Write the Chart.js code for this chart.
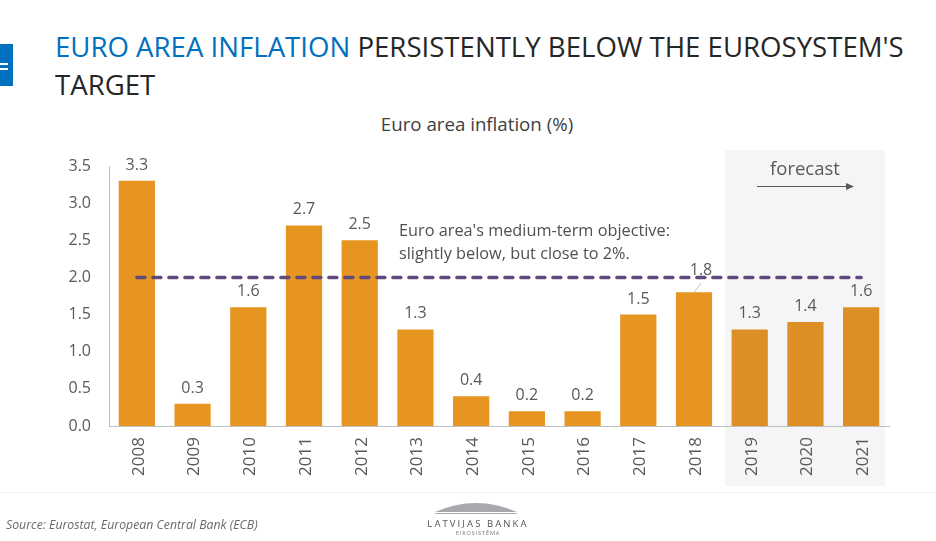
<!DOCTYPE html>
<html>
<head>
<meta charset="utf-8">
<script src="https://cdn.jsdelivr.net/npm/chart.js@4"></script>
<style>
    html, body { margin: 0; padding: 0; background: #fff; }
    body { width: 936px; height: 541px; position: relative; overflow: hidden; font-family: "Open Sans", sans-serif; color: #595959; }
    div, svg, canvas { position: absolute; }
    #tab { left: 0; top: 44px; width: 13px; height: 42px; background: #0070c0; }
    #tab div { left: 0; width: 8px; height: 2px; background: #fff; }
    #title { left: 55px; top: 27px; width: 875px; font-size: 27.6px; line-height: 38px; color: #262626; }
    #title span { color: #0070c0; }
    #chartTitle { left: 277px; width: 400px; top: 111px; text-align: center; font-size: 18.7px; color: #404040; }
    #band { left: 725px; top: 150px; width: 160px; height: 336px; background: #f5f5f8; }
    #forecast { left: 725px; width: 160px; top: 155px; text-align: center; font-size: 18.5px; }
    #note { left: 399px; top: 219px; font-size: 16.3px; line-height: 23px; white-space: nowrap; color: #505050; }
    #footLine { left: 0; top: 492px; width: 936px; height: 1px; background: #f0f0f0; }
    #source { left: 6px; top: 516px; font-size: 12.3px; font-style: italic; color: #6a6a6a; }
    #bank { left: 398px; width: 160px; top: 517px; text-align: center; font-family: "Open Sans", sans-serif; font-size: 9.5px; letter-spacing: 2.1px; color: #555; }
    #bank2 { left: 398px; width: 160px; top: 529px; text-align: center; font-family: "Open Sans", sans-serif; font-size: 5.5px; letter-spacing: 0.9px; color: #777; }
</style>
</head>
<body>
<div id="tab"><div style="top:19px"></div><div style="top:24px"></div></div>
<div id="title"><span>EURO AREA INFLATION</span> PERSISTENTLY BELOW THE EUROSYSTEM'S TARGET</div>
<div id="chartTitle">Euro area inflation (%)</div>
<div id="band"></div>
<canvas id="chart" width="936" height="541" style="left:0;top:0;width:936px;height:541px"></canvas>
<div id="forecast">forecast</div>
<svg style="left:750px;top:178px" width="110" height="16">
    <line x1="7" y1="8.5" x2="97" y2="8.5" stroke="#595959" stroke-width="1"/>
    <polygon points="96,5 104,8.5 96,12" fill="#595959"/>
</svg>
<div id="note">Euro area's medium-term objective:<br>slightly below, but close to 2%.</div>
<div id="footLine"></div>
<div id="source">Source: Eurostat, European Central Bank (ECB)</div>
<svg style="left:430px;top:498px" width="96" height="18">
    <path d="M5 14 Q 46 -4 87 14 Z" fill="#a9a9ad"/>
    <line x1="5" y1="15.5" x2="87" y2="15.5" stroke="#a9a9ad" stroke-width="1"/>
</svg>
<div id="bank">LATVIJAS BANKA</div>
<div id="bank2">EIROSISTĒMA</div>

<script>
const years = ['2008', '2009', '2010', '2011', '2012', '2013', '2014', '2015', '2016', '2017', '2018', '2019', '2020', '2021'];
const inflation = [3.3, 0.3, 1.6, 2.7, 2.5, 1.3, 0.4, 0.2, 0.2, 1.5, 1.8, 1.3, 1.4, 1.6];
const target = [2, 2, 2, 2, 2, 2, 2, 2, 2, 2, 2, 2, 2, 2];
const forecastYears = ['2019', '2020', '2021'];

// forecast bars are a bit darker, the grey box lies over them in the original
const barColors = years.map(y => forecastYears.includes(y) ? '#dc8f25' : '#e59520');

// value labels over the bars, 2018 is moved off the target line with a small leader
const barLabels = {
    id: 'barLabels',
    afterDatasetsDraw(chart) {
        const ctx = chart.ctx;
        const bars = chart.getDatasetMeta(1).data;
        ctx.save();
        ctx.font = '16px "Open Sans"';
        ctx.fillStyle = '#595959';
        ctx.textAlign = 'center';
        ctx.textBaseline = 'middle';
        bars.forEach((bar, i) => {
            if (years[i] === '2018') {
                ctx.strokeStyle = '#bfbfbf';
                ctx.lineWidth = 1;
                ctx.beginPath();
                ctx.moveTo(bar.x, bar.y);
                ctx.lineTo(bar.x + 7, bar.y - 9);
                ctx.stroke();
                ctx.fillText(inflation[i].toFixed(1), bar.x + 7, bar.y - 22);
            } else {
                ctx.fillText(inflation[i].toFixed(1), bar.x, bar.y - 15.5);
            }
        });
        ctx.restore();
    }
};

new Chart(document.getElementById('chart').getContext('2d'), {
    data: {
        labels: years,
        datasets: [
            {
                type: 'line',
                data: target,
                borderColor: '#604a7b',
                borderWidth: 3.5,
                borderDash: [8, 8],
                borderCapStyle: 'round',
                pointRadius: 0,
                order: 1
            },
            {
                type: 'bar',
                data: inflation,
                backgroundColor: barColors,
                categoryPercentage: 1,
                barPercentage: 0.65,
                order: 2
            }
        ]
    },
    options: {
        responsive: false,
        animation: false,
        layout: { padding: { top: 166, right: 47, left: 0, bottom: 0 } },
        plugins: { legend: { display: false }, tooltip: { enabled: false } },
        scales: {
            x: {
                grid: { display: false, drawTicks: false },
                border: { color: '#bfbfbf', width: 1 },
                afterFit(scale) { scale.height = 115; },
                ticks: {
                    color: '#595959',
                    font: { family: 'Open Sans', size: 17 },
                    minRotation: 90,
                    maxRotation: 90,
                    labelOffset: 2,
                    padding: 11
                }
            },
            y: {
                min: 0,
                max: 3.5,
                grid: { display: false, drawTicks: false },
                border: { color: '#bfbfbf', width: 1 },
                afterFit(scale) { scale.width = 109; },
                ticks: {
                    stepSize: 0.5,
                    color: '#595959',
                    font: { family: 'Open Sans', size: 16 },
                    padding: 18,
                    callback: v => v.toFixed(1)
                }
            }
        }
    },
    plugins: [barLabels]
});
</script>
</body>
</html>
